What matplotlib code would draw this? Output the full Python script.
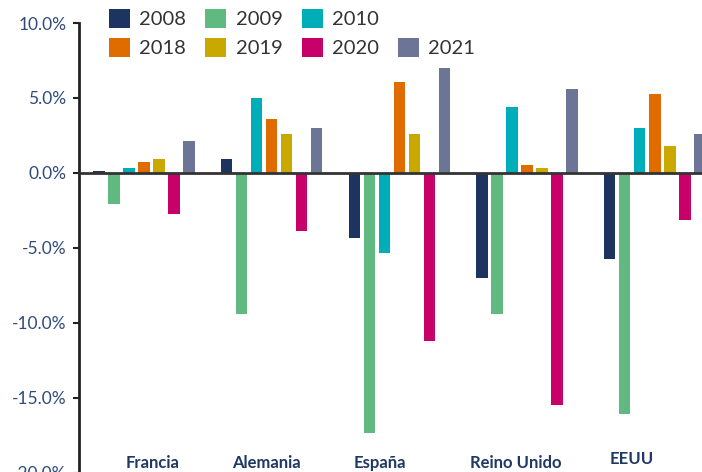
import numpy as np
import matplotlib
matplotlib.use('Agg')
import matplotlib.pyplot as plt
from matplotlib.patches import Patch

# Data: annual change (%) per country
countries = ['Francia', 'Alemania', 'España', 'Reino Unido', 'EEUU']
years = ['2008', '2009', '2010', '2018', '2019', '2020', '2021']
v2008 = [0.12, 0.95, -4.32, -6.99, -5.77]
v2009 = [-2.10, -9.41, -17.35, -9.41, -16.12]
v2010 = [0.32, 5.01, -5.35, 4.39, 2.97]
v2018 = [0.75, 3.57, 6.03, 0.55, 5.23]
v2019 = [0.92, 2.57, 2.57, 0.32, 1.77]
v2020 = [-2.72, -3.90, -11.25, -15.52, -3.12]
v2021 = [2.15, 2.97, 7.03, 5.61, 2.57]
series = [v2008, v2009, v2010, v2018, v2019, v2020, v2021]

colors = ['#1d3461', '#5fb981', '#00aeb9', '#e06c00', '#c9a800', '#c8006a', '#6c7596']

plt.rcParams['font.family'] = ['Lato', 'DejaVu Sans']

fig = plt.figure(figsize=(7.02, 4.72), dpi=100)
ax = fig.add_axes([79 / 702, -0.5 / 472, 1 - 79 / 702, (472.5 - 23) / 472])

x = np.arange(len(countries))
step = 0.1175
width = 0.09
for j, vals in enumerate(series):
    ax.bar(x + (j - 3) * step, vals, width=width, color=colors[j], zorder=2)

ax.axhline(0, color='#333333', lw=2, zorder=3)

ax.set_xlim(-0.509, 4.37)
ax.set_ylim(-20, 10)
ax.set_yticks(np.arange(-20, 10.1, 5))
ax.set_yticklabels([f'{t:.1f}%' for t in np.arange(-20, 10.1, 5)])
ax.tick_params(axis='y', length=4, width=1.5, color='#222222', pad=5,
               labelsize=12.5, labelcolor='#2f4b7c')
ax.set_xticks([])
for s in ['top', 'right', 'bottom']:
    ax.spines[s].set_visible(False)
ax.spines['left'].set_linewidth(2)
ax.spines['left'].set_color('#222222')

# country labels, placed near the bottom of the chart
label_x = [0.07, 0.96, 1.85, 2.91, 3.82]
label_y = [-19.37, -19.37, -19.37, -19.37, -19.1]
for name, lx, ly in zip(countries, label_x, label_y):
    ax.text(lx, ly, name, ha='center', va='center', fontsize=12,
            fontweight='bold', color='#1f3864')

# legend: 3 items on top row, 4 on bottom row
handles = [Patch(facecolor=c, label=y) for c, y in zip(colors, years)]
blank = Patch(facecolor='none', edgecolor='none', label='')
order = [handles[0], handles[3], handles[1], handles[4],
         handles[2], handles[5], blank, handles[6]]
fig.legend(handles=order, labels=[h.get_label() for h in order], ncol=4,
           loc='upper left', bbox_to_anchor=(109 / 702, 1 - 9 / 472),
           frameon=False, fontsize=14.5, labelcolor='#333333',
           handlelength=1.05, handleheight=1.05, handletextpad=0.45,
           columnspacing=0.95, labelspacing=0.5, borderpad=0,
           borderaxespad=0)

fig.savefig('out.png', dpi=100)
